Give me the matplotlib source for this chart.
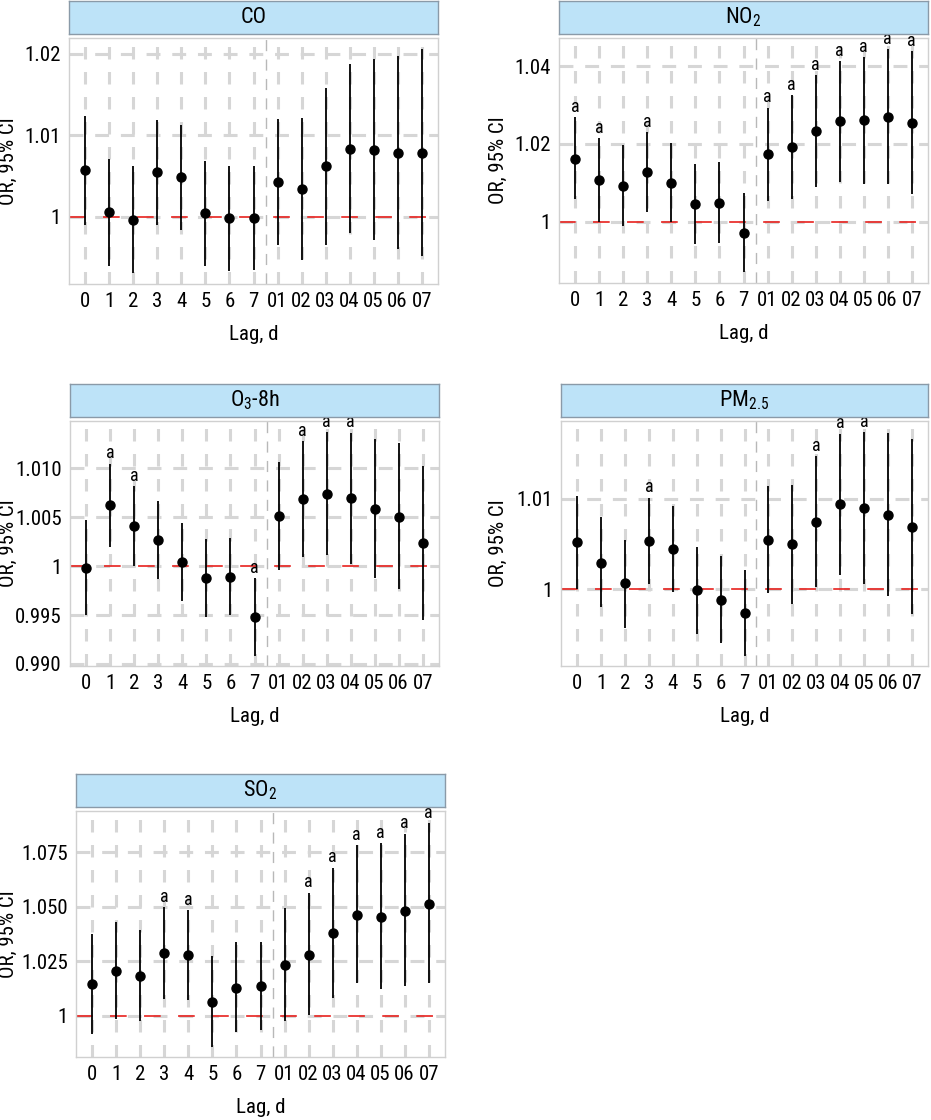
import matplotlib
matplotlib.use("Agg")
import matplotlib.pyplot as plt

plt.rcParams["font.family"] = ["Roboto Condensed", "DejaVu Sans"]
plt.rcParams["font.stretch"] = "condensed"
plt.rcParams["mathtext.fontset"] = "custom"
plt.rcParams["mathtext.rm"] = "Roboto Condensed"
plt.rcParams["mathtext.it"] = "Roboto Condensed:italic"
plt.rcParams["lines.scale_dashes"] = False

LAGS = ["0", "1", "2", "3", "4", "5", "6", "7", "01", "02", "03", "04", "05", "06", "07"]

CO_EST = [1.00576, 1.00057, 0.99959, 1.00543, 1.00482, 1.00041, 0.99980, 0.99984,
          1.00420, 1.00339, 1.00616, 1.00829, 1.00812, 1.00784, 1.00784]
CO_LO = [0.99902, 0.99400, 0.99310, 0.99902, 0.99841, 0.99392, 0.99339, 0.99351,
         0.99649, 0.99473, 0.99657, 0.99800, 0.99710, 0.99608, 0.99514]
CO_HI = [1.01237, 1.00710, 1.00616, 1.01188, 1.01127, 1.00686, 1.00624, 1.00616,
         1.01196, 1.01212, 1.01576, 1.01869, 1.01930, 1.01971, 1.02057]
CO_SIG = [0] * 15

NO2_EST = [1.01619, 1.01071, 1.00916, 1.01268, 1.00994, 1.00454, 1.00480, 0.99700,
           1.01739, 1.01919, 1.02338, 1.02578, 1.02604, 1.02689, 1.02535]
NO2_LO = [1.00582, 1.00000, 0.99872, 1.00240, 1.00000, 0.99418, 0.99443, 0.98690,
          1.00540, 1.00582, 1.00900, 1.01028, 1.00968, 1.00968, 1.00711]
NO2_HI = [1.02681, 1.02141, 1.01970, 1.02295, 1.02030, 1.01490, 1.01525, 1.00728,
          1.02938, 1.03255, 1.03777, 1.04128, 1.04240, 1.04437, 1.04385]
NO2_SIG = [1, 1, 0, 1, 0, 0, 0, 0, 1, 1, 1, 1, 1, 1, 1]

O3_EST = [0.99986, 1.00627, 1.00412, 1.00269, 1.00044, 0.99881, 0.99894, 0.99479,
          1.00514, 1.00685, 1.00743, 1.00695, 1.00586, 1.00508, 1.00235]
O3_LO = [0.99499, 1.00198, 1.00003, 0.99867, 0.99646, 0.99482, 0.99499, 0.99083,
         0.99959, 1.00089, 1.00112, 1.00027, 0.99874, 0.99762, 0.99448]
O3_HI = [1.00477, 1.01049, 1.00818, 1.00668, 1.00443, 1.00276, 1.00293, 0.99874,
         1.01070, 1.01278, 1.01373, 1.01366, 1.01298, 1.01261, 1.01026]
O3_SIG = [0, 1, 1, 0, 0, 0, 0, 1, 0, 1, 1, 1, 0, 0, 0]

PM_EST = [1.00522, 1.00294, 1.00063, 1.00533, 1.00438, 0.99985, 0.99879, 0.99732,
          1.00544, 1.00493, 1.00743, 1.00938, 1.00897, 1.00820, 1.00691]
PM_LO = [1.00000, 0.99798, 0.99574, 1.00055, 0.99963, 0.99500, 0.99401, 0.99265,
         0.99960, 0.99835, 1.00026, 1.00158, 1.00055, 0.99923, 0.99724]
PM_HI = [1.01029, 1.00794, 1.00548, 1.01011, 1.00919, 1.00467, 1.00364, 1.00210,
         1.01136, 1.01147, 1.01467, 1.01717, 1.01735, 1.01724, 1.01658]
PM_SIG = [0, 0, 0, 1, 0, 0, 0, 0, 0, 0, 1, 1, 1, 0, 0]

SO2_EST = [1.01454, 1.02066, 1.01821, 1.02862, 1.02786, 1.00628, 1.01286, 1.01347,
           1.02311, 1.02801, 1.03780, 1.04622, 1.04546, 1.04791, 1.05112]
SO2_LO = [0.99173, 0.99847, 0.99740, 1.00781, 1.00704, 0.98561, 0.99250, 0.99357,
          0.99740, 1.00046, 1.00827, 1.01515, 1.01240, 1.01347, 1.01515]
SO2_HI = [1.03765, 1.04286, 1.03949, 1.04974, 1.04852, 1.02724, 1.03383, 1.03383,
          1.04929, 1.05648, 1.06796, 1.07821, 1.07928, 1.08357, 1.08847]
SO2_SIG = [0, 0, 0, 1, 1, 0, 0, 0, 0, 1, 1, 1, 1, 1, 1]

W, H = 931, 1120
GRID = "#d6d6d6"

# (title, est, lo, hi, sig, yticks, yticklabels, ylim,
#  plot box px (x0, y0, x1, y1), right edge of y label px)
panels = [
    ("CO", CO_EST, CO_LO, CO_HI, CO_SIG, [1.0, 1.01, 1.02], ["1", "1.01", "1.02"],
     (0.99176, 1.0219), (69, 38, 438, 284), 18),
    ("NO$_2$", NO2_EST, NO2_LO, NO2_HI, NO2_SIG, [1.0, 1.02, 1.04], ["1", "1.02", "1.04"],
     (0.98415, 1.0473), (559, 38, 928, 283), 508),
    ("O$_3$-8h", O3_EST, O3_LO, O3_HI, O3_SIG, [0.99, 0.995, 1.0, 1.005, 1.01],
     ["0.990", "0.995", "1", "1.005", "1.010"], (0.98978, 1.01486), (70, 421, 439, 666), 18),
    ("PM$_{2.5}$", PM_EST, PM_LO, PM_HI, PM_SIG, [1.0, 1.01], ["1", "1.01"],
     (0.99151, 1.01857), (561, 421, 928, 666), 508),
    ("SO$_2$", SO2_EST, SO2_LO, SO2_HI, SO2_SIG, [1.0, 1.025, 1.05, 1.075],
     ["1", "1.025", "1.050", "1.075"], (0.98102, 1.09398), (76, 811, 445, 1057), 18),
]

fig = plt.figure(figsize=(W / 100, H / 100), dpi=100)

for title, est, lo, hi, sig, yt, ytl, ylim, (x0, y0, x1, y1), ylab_x in panels:
    ax = fig.add_axes([x0 / W, 1 - y1 / H, (x1 - x0) / W, (y1 - y0) / H])
    sax = fig.add_axes([x0 / W, 1 - (y0 - 4) / H, (x1 - x0) / W, 33 / H])
    sax.set_facecolor("#bde3f8")
    for s in sax.spines.values():
        s.set_color("#8a9aa8")
        s.set_linewidth(1.0)
    sax.set_xticks([])
    sax.set_yticks([])
    sax.text(0.5, 0.5, title, ha="center", va="center", fontsize=16,
             transform=sax.transAxes)

    x = list(range(len(LAGS)))
    ax.set_xlim(-0.68, len(LAGS) - 1 + 0.68)
    ax.set_ylim(*ylim)
    for xi in x:
        ax.axvline(xi, color=GRID, lw=2.2, dashes=(9, 9), zorder=0)
    for yv in yt:
        ax.axhline(yv, color=GRID, lw=2.2, dashes=(10, 8.5), zorder=0)
    ax.axvline(7.5, color="#b8b8b8", lw=1.0, dashes=(8, 6), zorder=1)
    ax.axhline(1.0, color="#e8211e", lw=1.2, dashes=(12, 12.5), zorder=2)

    ax.vlines(x, lo, hi, color="black", lw=1.3, zorder=3)
    ax.plot(x, est, "o", color="black", ms=6.5, zorder=4)
    for xi, h, s in zip(x, hi, sig):
        if s:
            ax.annotate("a", (xi, h), xytext=(0, 1), textcoords="offset points",
                        ha="center", va="bottom", fontsize=13)

    ax.set_xticks(x)
    ax.set_xticklabels(LAGS)
    ax.set_yticks(yt)
    ax.set_yticklabels(ytl)
    ax.tick_params(length=0, labelsize=15, pad=6)
    for s in ax.spines.values():
        s.set_color("#d0d0d0")
        s.set_linewidth(1.0)
    ax.set_xlabel("Lag, d", fontsize=15, labelpad=10)
    ax.set_ylabel("OR, 95% CI", fontsize=15)
    ax.yaxis.set_label_coords(-(x0 - ylab_x) / (x1 - x0), 0.5)

fig.savefig("out.png", dpi=100)
